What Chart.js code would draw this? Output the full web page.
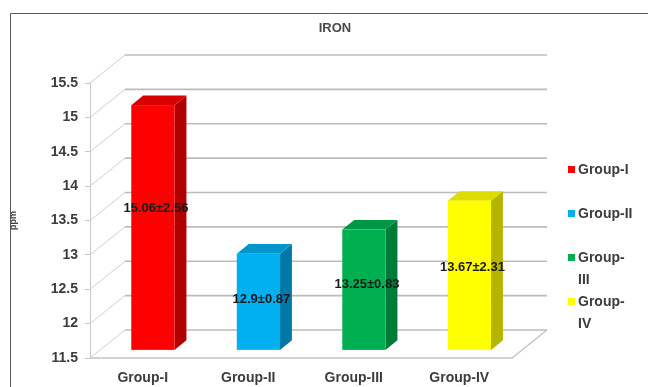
<!DOCTYPE html>
<html>
<head>
<meta charset="utf-8">
<script src="https://cdn.jsdelivr.net/npm/chart.js@4"></script>
<style>
  html, body { margin: 0; padding: 0; background: #ffffff; }
  #wrap { width: 648px; height: 387px; position: relative; }
</style>
</head>
<body>
<div id="wrap"><canvas id="c" width="648" height="387"></canvas></div>
<script>
// Serum iron (ppm) per group: mean and standard deviation
const categories = ['Group-I', 'Group-II', 'Group-III', 'Group-IV'];
const legendLabels = [['Group-I'], ['Group-II'], ['Group-', 'III'], ['Group-', 'IV']];
const ironMeans = [15.06, 12.9, 13.25, 13.67];
const ironSD = [2.56, 0.87, 0.83, 2.31];
const yTicks = [11.5, 12, 12.5, 13, 13.5, 14, 14.5, 15, 15.5];

const frontColors = ['#ff0000', '#00b0f0', '#00b050', '#ffff00'];
const sideColors  = ['#b00000', '#0079a8', '#007a38', '#b5b500'];
const topColors   = ['#d80000', '#0096cc', '#009845', '#dcdc00'];

const FONT = '"Liberation Sans", Arial, sans-serif';
const TEXT = '#3c3c3c';

// Oblique projection of the box: back wall sits DX right and DY up from the front plane
const DX = 35, DY = -28;
const BAR_NEAR = 0.29, BAR_FAR = 0.63;

const box3d = {
  id: 'box3d',
  beforeDatasetsDraw(chart) {
    const { ctx, chartArea: a, scales: { y } } = chart;
    ctx.save();
    // left wall diagonals
    ctx.strokeStyle = '#cfcfcf';
    ctx.lineWidth = 1;
    yTicks.forEach(v => {
      const yf = y.getPixelForValue(v);
      ctx.beginPath();
      ctx.moveTo(a.left, yf);
      ctx.lineTo(a.left + DX, yf + DY);
      ctx.stroke();
    });
    // back wall gridlines
    ctx.strokeStyle = '#bcbcbc';
    ctx.lineWidth = 1.7;
    yTicks.forEach(v => {
      const yb = y.getPixelForValue(v) + DY;
      ctx.beginPath();
      ctx.moveTo(a.left + DX, yb);
      ctx.lineTo(a.right + DX, yb);
      ctx.stroke();
    });
    // floor outline
    ctx.strokeStyle = '#c4c4c4';
    ctx.lineWidth = 1.4;
    ctx.beginPath();
    ctx.moveTo(a.left, a.bottom);
    ctx.lineTo(a.right, a.bottom);
    ctx.lineTo(a.right + DX, a.bottom + DY);
    ctx.stroke();
    ctx.restore();
  },
  beforeDatasetDraw() {
    return false; // bars are drawn as prisms below
  },
  afterDatasetsDraw(chart) {
    const { ctx, scales: { y } } = chart;
    const meta = chart.getDatasetMeta(0);
    const sx = DX * BAR_NEAR, sy = DY * BAR_NEAR;
    const ddx = DX * (BAR_FAR - BAR_NEAR), ddy = DY * (BAR_FAR - BAR_NEAR);
    const basePx = y.getPixelForValue(y.min);
    ctx.save();
    meta.data.forEach((bar, i) => {
      const p = bar.getProps(['x', 'y', 'width'], true);
      const x0 = p.x - p.width / 2 + sx, x1 = p.x + p.width / 2 + sx;
      const yt = p.y + sy, yb = basePx + sy;
      // side face
      ctx.fillStyle = sideColors[i];
      ctx.beginPath();
      ctx.moveTo(x1, yt);
      ctx.lineTo(x1 + ddx, yt + ddy);
      ctx.lineTo(x1 + ddx, yb + ddy);
      ctx.lineTo(x1, yb);
      ctx.closePath();
      ctx.fill();
      // top face
      ctx.fillStyle = topColors[i];
      ctx.beginPath();
      ctx.moveTo(x0, yt);
      ctx.lineTo(x0 + ddx, yt + ddy);
      ctx.lineTo(x1 + ddx, yt + ddy);
      ctx.lineTo(x1, yt);
      ctx.closePath();
      ctx.fill();
      // front face
      ctx.fillStyle = frontColors[i];
      ctx.fillRect(x0, yt, x1 - x0, yb - yt);
    });
    // value labels: mean ± SD
    ctx.font = 'bold 13px ' + FONT;
    ctx.fillStyle = '#1a1a1a';
    ctx.textAlign = 'center';
    ctx.textBaseline = 'middle';
    meta.data.forEach((bar, i) => {
      const v = ironMeans[i];
      const ly = y.getPixelForValue(yTicks[0] + 0.61 * (v - yTicks[0]));
      ctx.fillText(v + '\u00b1' + ironSD[i], bar.x + sx + 3, ly);
    });
    ctx.restore();
  },
  afterDraw(chart) {
    const { ctx } = chart;
    ctx.save();
    // frame
    ctx.strokeStyle = '#5a5a5a';
    ctx.lineWidth = 1;
    ctx.beginPath();
    ctx.moveTo(10.5, 387);
    ctx.lineTo(10.5, 13.5);
    ctx.lineTo(648, 13.5);
    ctx.stroke();
    // title
    ctx.font = 'bold 13px ' + FONT;
    ctx.fillStyle = '#4a4a4a';
    ctx.textAlign = 'center';
    ctx.textBaseline = 'middle';
    ctx.fillText('IRON', 335, 28);
    // legend
    ctx.font = 'bold 14px ' + FONT;
    ctx.textAlign = 'left';
    ctx.fillStyle = TEXT;
    legendLabels.forEach((lines, i) => {
      const top = 170 + i * 44;
      ctx.fillStyle = frontColors[i];
      ctx.fillRect(568, top - 4, 7, 7);
      ctx.fillStyle = TEXT;
      lines.forEach((t, k) => ctx.fillText(t, 578, top + k * 22));
    });
    ctx.restore();
  }
};

new Chart(document.getElementById('c'), {
  type: 'bar',
  data: {
    labels: categories,
    datasets: [{
      label: 'IRON',
      data: ironMeans,
      base: yTicks[0],
      backgroundColor: frontColors,
      barPercentage: 0.41,
      categoryPercentage: 1.0
    }]
  },
  options: {
    responsive: false,
    animation: false,
    devicePixelRatio: 1,
    layout: { padding: { left: 8, top: 83, right: 136, bottom: 0 } },
    plugins: {
      legend: { display: false },
      title: { display: false },
      tooltip: { enabled: false }
    },
    scales: {
      x: {
        grid: { display: false, drawTicks: false },
        border: { display: false },
        ticks: { padding: 12, color: TEXT, font: { family: FONT, size: 14, weight: 'bold' } },
        afterFit(s) { s.height = 29; }
      },
      y: {
        min: yTicks[0],
        max: yTicks[yTicks.length - 1],
        afterBuildTicks(s) { s.ticks = yTicks.map(v => ({ value: v })); },
        grid: { display: true, drawOnChartArea: false, drawTicks: true, tickLength: 5, color: '#c8c8c8' },
        border: { display: true, color: '#c8c8c8' },
        ticks: {
          padding: 7, color: TEXT,
          font: { family: FONT, size: 14, weight: 'bold' },
          callback: v => String(v)
        },
        title: { display: true, text: 'ppm', color: TEXT, font: { family: FONT, size: 9, weight: 'bold' }, padding: { top: 0, bottom: 0 } },
        afterFit(s) { s.width = 82; }
      }
    }
  },
  plugins: [box3d]
});
</script>
</body>
</html>
